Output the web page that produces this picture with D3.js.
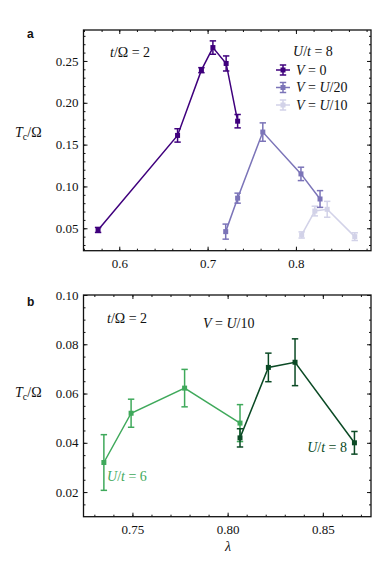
<!DOCTYPE html>
<html>
<head>
<meta charset="utf-8">
<title>Tc vs lambda</title>
<style>
  body { margin: 0; background: #fff; }
</style>
</head>
<body>
<svg width="382" height="581" font-family="Liberation Serif"></svg>
<script src="https://d3js.org/d3.v7.min.js"></script>
<script>
// ---- panel a data (U/t = 8) ----
var lamV0 = [0.576, 0.666, 0.693, 0.706, 0.721, 0.734];
var tcV0 = [0.048, 0.161, 0.239, 0.266, 0.247, 0.178];
var errV0 = [0.003, 0.008, 0.003, 0.008, 0.009, 0.008];

var lamV20 = [0.7205, 0.734, 0.7625, 0.8057, 0.8273];
var tcV20 = [0.046, 0.086, 0.165, 0.115, 0.085];
var errV20 = [0.009, 0.006, 0.011, 0.008, 0.010];

var lamV10 = [0.8065, 0.8214, 0.8354, 0.8666];
var tcV10 = [0.042, 0.0706, 0.0727, 0.040];
var errV10 = [0.0037, 0.0058, 0.0095, 0.0046];

// ---- panel b data (V = U/10) ----
var lamU6 = [0.735, 0.7493, 0.7774, 0.8065];
var tcU6 = [0.032, 0.052, 0.0622, 0.048];
var errU6 = [0.0113, 0.0057, 0.0076, 0.0075];

var lamU8 = [0.8065, 0.8214, 0.8354, 0.8666];
var tcU8 = [0.042, 0.0706, 0.0727, 0.040];
var errU8 = [0.0037, 0.0058, 0.0095, 0.0046];

var ticksXa = [0.6, 0.7, 0.8];
var ticksYa = [0.05, 0.10, 0.15, 0.20, 0.25];
var ticksXb = [0.75, 0.80, 0.85];
var ticksYb = [0.02, 0.04, 0.06, 0.08, 0.10];

var SERIF = "Liberation Serif";

var svg = d3.select("svg");

function zip(l, t, e) {
    return l.map(function (d, i) { return {x: d, y: t[i], e: e[i]}; });
}

function frame(g, x, y, xt, yt, xMinor, yMinor, xfmt, yfmt) {
    var w = x.range()[1] - x.range()[0], h = y.range()[0] - y.range()[1];
    var x0 = x.range()[0], y0 = y.range()[1];
    // major + minor ticks on all four sides, pointing in
    function put(axis, tr) {
        var a = g.append("g").attr("transform", tr).call(axis);
        a.select(".domain").remove();
        a.attr("font-family", SERIF).attr("font-size", 13);
        a.selectAll("line").attr("stroke", "#111");
        a.selectAll("text").attr("fill", "#111");
        return a;
    }
    put(d3.axisBottom(x).tickValues(xt).tickSize(-4).tickPadding(8).tickFormat(xfmt), "translate(0," + (y0 + h) + ")");
    put(d3.axisBottom(x).tickValues(xMinor).tickSize(-2).tickFormat(""), "translate(0," + (y0 + h) + ")");
    put(d3.axisTop(x).tickValues(xt).tickSize(-4).tickFormat(""), "translate(0," + y0 + ")");
    put(d3.axisTop(x).tickValues(xMinor).tickSize(-2).tickFormat(""), "translate(0," + y0 + ")");
    put(d3.axisLeft(y).tickValues(yt).tickSize(-4).tickPadding(5).tickFormat(yfmt), "translate(" + x0 + ",0)");
    put(d3.axisLeft(y).tickValues(yMinor).tickSize(-2).tickFormat(""), "translate(" + x0 + ",0)");
    put(d3.axisRight(y).tickValues(yt).tickSize(-4).tickFormat(""), "translate(" + (x0 + w) + ",0)");
    put(d3.axisRight(y).tickValues(yMinor).tickSize(-2).tickFormat(""), "translate(" + (x0 + w) + ",0)");
    g.append("rect").attr("x", x0).attr("y", y0).attr("width", w).attr("height", h)
        .attr("fill", "none").attr("stroke", "#111").attr("stroke-width", 1.3);
}

function series(g, x, y, data, color) {
    var s = g.append("g");
    s.append("path").datum(data)
        .attr("fill", "none").attr("stroke", color).attr("stroke-width", 1.5)
        .attr("d", d3.line().x(function (d) { return x(d.x); }).y(function (d) { return y(d.y); }));
    var eb = s.selectAll(".eb").data(data).enter().append("g");
    eb.append("line")
        .attr("x1", function (d) { return x(d.x); }).attr("x2", function (d) { return x(d.x); })
        .attr("y1", function (d) { return y(d.y - d.e); }).attr("y2", function (d) { return y(d.y + d.e); })
        .attr("stroke", color).attr("stroke-width", 1.5);
    [-1, 1].forEach(function (sg) {
        eb.append("line")
            .attr("x1", function (d) { return x(d.x) - 3.2; }).attr("x2", function (d) { return x(d.x) + 3.2; })
            .attr("y1", function (d) { return y(d.y + sg * d.e); }).attr("y2", function (d) { return y(d.y + sg * d.e); })
            .attr("stroke", color).attr("stroke-width", 1.5);
    });
    eb.append("rect")
        .attr("x", function (d) { return x(d.x) - 2.5; }).attr("y", function (d) { return y(d.y) - 2.5; })
        .attr("width", 5).attr("height", 5).attr("fill", color);
}

function ylabel(g, px, py) {
    var t = g.append("text").attr("x", px).attr("y", py).attr("font-family", SERIF)
        .attr("font-size", 14).attr("fill", "#111");
    t.append("tspan").attr("font-style", "italic").text("T");
    t.append("tspan").attr("font-size", 10).attr("dy", 3).text("c");
    t.append("tspan").attr("dy", -3).text("/Ω");
}

function mathText(g, px, py, parts, color, anchor) {
    var t = g.append("text").attr("x", px).attr("y", py).attr("font-family", SERIF).attr("font-size", 14)
        .attr("fill", color || "#111").attr("text-anchor", anchor || "start");
    parts.forEach(function (p) {
        t.append("tspan").attr("font-style", p[1] ? "italic" : "normal").text(p[0]);
    });
    return t;
}

function panelLabel(g, px, py, s) {
    g.append("text").attr("x", px).attr("y", py).attr("font-family", "Liberation Sans")
        .attr("font-weight", "bold").attr("font-size", 12).attr("fill", "#111").text(s);
}

var c0 = "#3f007d", c20 = "#7b74b8", c10 = "#d2d2e8";
var cU6 = "#3fa95b", cU8 = "#0b4a25";

// ---------- panel a ----------
var xa = d3.scaleLinear().domain([0.5595, 0.885]).range([83.5, 371]);
var ya = d3.scaleLinear().domain([0.0232, 0.287]).range([250.7, 30]);
var ga = svg.append("g");
frame(ga, xa, ya, ticksXa, ticksYa, d3.range(0.56, 0.885, 0.02), d3.range(0.03, 0.287, 0.01),
    d3.format(".1f"), d3.format(".2f"));
series(ga, xa, ya, zip(lamV10, tcV10, errV10), c10);
series(ga, xa, ya, zip(lamV20, tcV20, errV20), c20);
series(ga, xa, ya, zip(lamV0, tcV0, errV0), c0);
panelLabel(ga, 27, 38, "a");
ylabel(ga, 15, 137);
mathText(ga, 110, 57, [["t", 1], ["/Ω = 2", 0]]);
mathText(ga, 293, 56, [["U", 1], ["/", 0], ["t", 1], [" = 8", 0]]);

// legend
var legA = [["V = 0", c0], ["V = U/20", c20], ["V = U/10", c10]];
legA.forEach(function (d, i) {
    var cy = 70 + i * 17.5, cx = 283;
    var lg = ga.append("g");
    lg.append("line").attr("x1", cx - 7).attr("x2", cx + 7).attr("y1", cy).attr("y2", cy).attr("stroke", d[1]).attr("stroke-width", 1.5);
    lg.append("line").attr("x1", cx).attr("x2", cx).attr("y1", cy - 5).attr("y2", cy + 5).attr("stroke", d[1]).attr("stroke-width", 1.5);
    lg.append("line").attr("x1", cx - 3.2).attr("x2", cx + 3.2).attr("y1", cy - 5).attr("y2", cy - 5).attr("stroke", d[1]).attr("stroke-width", 1.5);
    lg.append("line").attr("x1", cx - 3.2).attr("x2", cx + 3.2).attr("y1", cy + 5).attr("y2", cy + 5).attr("stroke", d[1]).attr("stroke-width", 1.5);
    lg.append("rect").attr("x", cx - 2.5).attr("y", cy - 2.5).attr("width", 5).attr("height", 5).attr("fill", d[1]);
    var parts = i === 0 ? [["V", 1], [" = 0", 0]] : [["V", 1], [" = ", 0], ["U", 1], [i === 1 ? "/20" : "/10", 0]];
    mathText(lg, 296, cy + 4.5, parts);
});

// ---------- panel b ----------
var xb = d3.scaleLinear().domain([0.7243, 0.8753]).range([83.5, 371]);
var yb = d3.scaleLinear().domain([0.01, 0.10]).range([516.7, 295]);
var gb = svg.append("g");
frame(gb, xb, yb, ticksXb, ticksYb, d3.range(0.73, 0.876, 0.01), d3.range(0.015, 0.1, 0.005),
    d3.format(".2f"), d3.format(".2f"));
series(gb, xb, yb, zip(lamU6, tcU6, errU6), cU6);
series(gb, xb, yb, zip(lamU8, tcU8, errU8), cU8);
panelLabel(gb, 27, 306, "b");
ylabel(gb, 15, 397);
mathText(gb, 107, 323, [["t", 1], ["/Ω = 2", 0]]);
mathText(gb, 203, 328, [["V", 1], [" = ", 0], ["U", 1], ["/10", 0]]);
mathText(gb, 107, 481, [["U", 1], ["/", 0], ["t", 1], [" = 6", 0]], cU6);
mathText(gb, 347, 452, [["U", 1], ["/", 0], ["t", 1], [" = 8", 0]], cU8, "end");
gb.append("text").attr("x", 228).attr("y", 551).attr("font-family", SERIF).attr("font-size", 14)
    .attr("font-style", "italic").attr("text-anchor", "middle").attr("fill", "#111").text("λ");
</script>
</body>
</html>
